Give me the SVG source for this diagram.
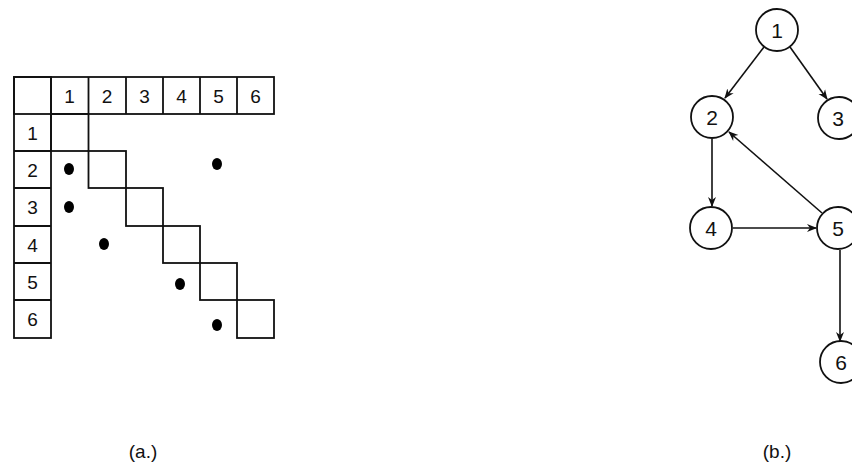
<svg xmlns="http://www.w3.org/2000/svg" width="852" height="465" viewBox="0 0 852 465">
<style>
.ln{fill:none;stroke:#111;stroke-width:1.8}
.t{font-family:"Liberation Sans",Arial,sans-serif;font-size:19px;fill:#111;text-anchor:middle;dominant-baseline:central}
.tn{font-family:"Liberation Sans",Arial,sans-serif;font-size:21px;fill:#111;text-anchor:middle;dominant-baseline:central}
.cap{font-family:"Liberation Sans",Arial,sans-serif;font-size:19px;fill:#111;text-anchor:middle}
.e{fill:none;stroke:#111;stroke-width:1.6;marker-end:url(#ah)}
.dot{fill:#000}
</style>
<defs>
<marker id="ah" viewBox="0 0 10 10" refX="9" refY="5" markerWidth="10" markerHeight="10" markerUnits="userSpaceOnUse" orient="auto">
<path d="M0,1 L10,5 L0,9 L3,5 Z" fill="#111"/>
</marker>
</defs>
<rect width="852" height="465" fill="#fff"/>
<g id="matrix">
<g id="header-row">
<rect class="ln" x="14" y="77" width="260" height="37"/>
<path class="ln" d="M51,77V114M88.5,77V114M126,77V114M163,77V114M200,77V114M237,77V114"/>
<text class="t" x="69.5" y="96">1</text>
<text class="t" x="107" y="96">2</text>
<text class="t" x="144.5" y="96">3</text>
<text class="t" x="181.5" y="96">4</text>
<text class="t" x="218.5" y="96">5</text>
<text class="t" x="255.5" y="96">6</text>
</g>
<g id="header-col">
<rect class="ln" x="14" y="77" width="37" height="261"/>
<path class="ln" d="M14,151H51M14,188H51M14,226H51M14,263H51M14,300H51"/>
<text class="t" x="32.5" y="133">1</text>
<text class="t" x="32.5" y="170">2</text>
<text class="t" x="32.5" y="207">3</text>
<text class="t" x="32.5" y="245">4</text>
<text class="t" x="32.5" y="282">5</text>
<text class="t" x="32.5" y="319">6</text>
</g>
<g id="diagonal">
<rect class="ln" x="51" y="114" width="37.5" height="37"/>
<rect class="ln" x="88.5" y="151" width="37.5" height="37"/>
<rect class="ln" x="126" y="188" width="37" height="38"/>
<rect class="ln" x="163" y="226" width="37" height="37"/>
<rect class="ln" x="200" y="263" width="37" height="37"/>
<rect class="ln" x="237" y="300" width="37" height="38"/>
</g>
<g id="entries">
<ellipse class="dot" cx="69" cy="169" rx="5" ry="6"/>
<ellipse class="dot" cx="217" cy="164" rx="5" ry="6"/>
<ellipse class="dot" cx="69" cy="207" rx="5" ry="6"/>
<ellipse class="dot" cx="104" cy="244" rx="5" ry="6"/>
<ellipse class="dot" cx="180" cy="284" rx="5" ry="6"/>
<ellipse class="dot" cx="217" cy="325" rx="5" ry="6"/>
</g>
<text class="cap" x="143" y="458">(a.)</text>
</g>
<g id="connectors">
<line class="e" x1="764" y1="47" x2="725" y2="98"/>
<line class="e" x1="790" y1="47" x2="827" y2="99"/>
<line class="e" x1="712" y1="139" x2="712" y2="206"/>
<line class="e" x1="822" y1="213" x2="729" y2="132"/>
<line class="e" x1="733" y1="228" x2="816" y2="228"/>
<line class="e" x1="840" y1="250" x2="840" y2="341"/>
</g>
<g id="n1"><circle class="ln" cx="777" cy="30" r="21"/><text class="tn" x="777" y="30">1</text></g>
<g id="n2"><circle class="ln" cx="712" cy="117" r="21"/><text class="tn" x="712" y="117">2</text></g>
<g id="n3"><circle class="ln" cx="839" cy="118" r="21"/><text class="tn" x="838" y="118">3</text></g>
<g id="n4"><circle class="ln" cx="711" cy="228" r="21"/><text class="tn" x="711" y="228">4</text></g>
<g id="n5"><circle class="ln" cx="838" cy="228" r="21"/><text class="tn" x="838" y="228">5</text></g>
<g id="n6"><circle class="ln" cx="841" cy="362" r="21"/><text class="tn" x="841" y="362">6</text></g>
<text class="cap" x="777" y="458">(b.)</text>
</svg>
